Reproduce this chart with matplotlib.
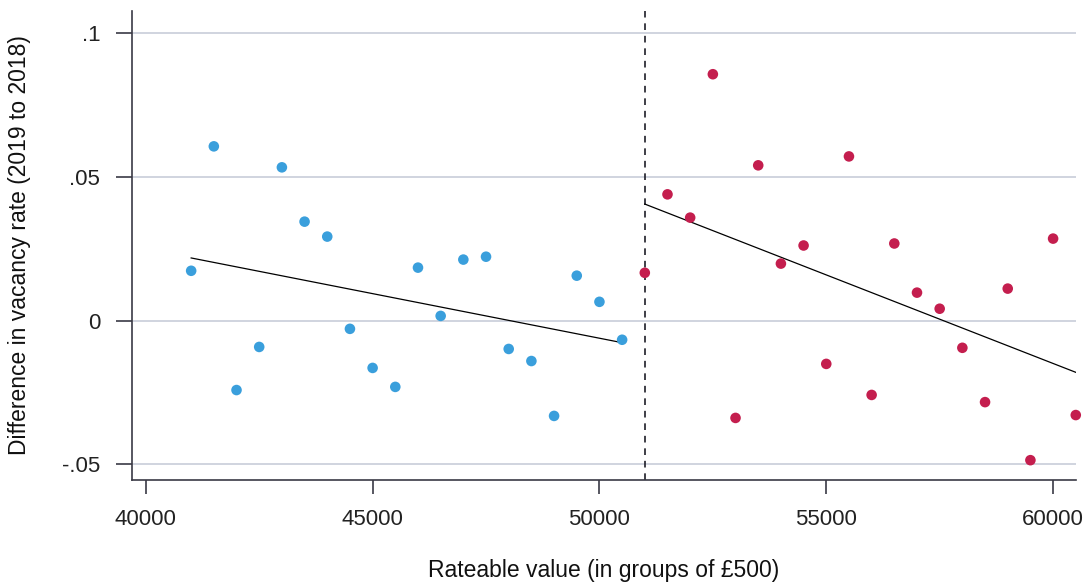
import numpy as np
import matplotlib
matplotlib.use("Agg")
import matplotlib.pyplot as plt

plt.rcParams["font.family"] = ["Liberation Sans", "DejaVu Sans"]

# bins below the threshold (blue) and above (red)
x_below = [41000, 41500, 42000, 42500, 43000, 43500, 44000, 44500, 45000, 45500,
           46000, 46500, 47000, 47500, 48000, 48500, 49000, 49500, 50000, 50500]
y_below = [0.0174, 0.0607, -0.0241, -0.0091, 0.0534, 0.0345, 0.0293, -0.0028, -0.0164, -0.0230,
           0.0185, 0.0017, 0.0213, 0.0223, -0.0098, -0.0140, -0.0331, 0.0157, 0.0066, -0.0066]
x_above = [51000, 51500, 52000, 52500, 53000, 53500, 54000, 54500, 55000, 55500,
           56000, 56500, 57000, 57500, 58000, 58500, 59000, 59500, 60000, 60500]
y_above = [0.0167, 0.0440, 0.0359, 0.0858, -0.0338, 0.0541, 0.0199, 0.0262, -0.0150, 0.0572,
           -0.0258, 0.0269, 0.0098, 0.0042, -0.0094, -0.0283, 0.0112, -0.0485, 0.0286, -0.0328]
threshold = 51000
xticks = [40000, 45000, 50000, 55000, 60000]
yticks = [-0.05, 0, 0.05, 0.1]
ytick_labels = ["-.05", "0", ".05", ".1"]

BLUE = "#3a9fdc"
RED = "#c41e4e"
AXC = "#3a3a45"

fig = plt.figure(figsize=(10.87, 5.82), dpi=100)
ax = fig.add_axes([131.5 / 1087, 1 - 480 / 582, (1076 - 131.5) / 1087, (480 - 11) / 582])

for y in yticks:
    ax.axhline(y, color="#cdd1dc", lw=1.3, zorder=0)

ax.axvline(threshold, color="#1e1e28", lw=1.2, ls=(0, (4, 3.5)), zorder=1)

for xs, ys, c in [(x_below, y_below, BLUE), (x_above, y_above, RED)]:
    xs = np.array(xs); ys = np.array(ys)
    b, a = np.polyfit(xs, ys, 1)
    ax.plot([xs[0], xs[-1]], [a + b * xs[0], a + b * xs[-1]], color="black", lw=0.9, zorder=2)
    ax.scatter(xs, ys, s=58, color=c, edgecolors="none", zorder=3, clip_on=False)

ax.set_xlim(39685, 60505)
ax.set_ylim(-0.0554, 0.1078)
ax.set_xticks(xticks)
ax.set_xticklabels([str(v) for v in xticks])
ax.set_yticks(yticks)
ax.set_yticklabels(ytick_labels)

for s in ["top", "right"]:
    ax.spines[s].set_visible(False)
for s in ["left", "bottom"]:
    ax.spines[s].set_color(AXC)
    ax.spines[s].set_linewidth(1.2)
ax.tick_params(axis="y", length=11.5, width=1.2, color=AXC, pad=11, labelsize=16, labelcolor="#222222")
ax.tick_params(axis="x", length=10, width=1.2, color=AXC, pad=11, labelsize=16, labelcolor="#222222")

ax.set_xlabel("Rateable value (in groups of £500)", fontsize=16.5, color="#111111", labelpad=21)
ax.set_ylabel("Difference in vacancy rate (2019 to 2018)", fontsize=16.5, color="#111111", labelpad=22)

fig.savefig("out.png", dpi=100)
